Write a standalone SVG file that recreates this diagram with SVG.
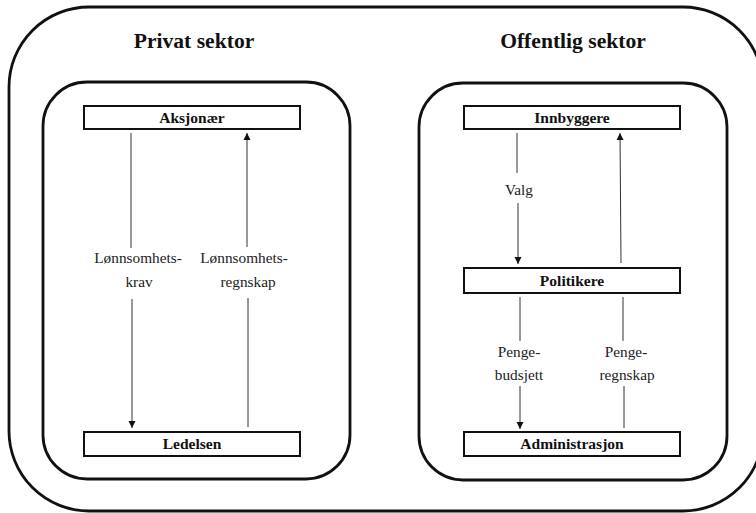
<svg xmlns="http://www.w3.org/2000/svg" width="756" height="513" viewBox="0 0 756 513">
  <style>
    .frame { fill: none; stroke: #111; stroke-width: 2.8; }
    .node rect { fill: #fff; stroke: #111; stroke-width: 2; }
    .ntxt { font-family: 'Liberation Serif', serif; font-weight: bold; font-size: 15.5px; fill: #111; text-anchor: middle; }
    .title { font-family: 'Liberation Serif', serif; font-weight: bold; font-size: 21.6px; fill: #111; text-anchor: middle; }
    .edge { stroke: #333; stroke-width: 1; fill: none; }
    .lbl { font-family: 'Liberation Serif', serif; font-size: 15.3px; fill: #222; text-anchor: middle; }
  </style>
  <defs>
    <marker id="arrow" viewBox="0 0 10 10" refX="10" refY="5" markerWidth="7" markerHeight="8" markerUnits="userSpaceOnUse" orient="auto">
      <path d="M0,0 L10,5 L0,10 Z" fill="#111"/>
    </marker>
  </defs>
  <rect width="756" height="513" fill="#fff"/>

  <!-- outer frame (runs past the right edge) and the two sector frames -->
  <rect class="frame" x="9" y="7" width="754" height="504" rx="80" ry="80"/>
  <rect class="frame" x="43" y="82" width="307" height="397" rx="44" ry="44"/>
  <rect class="frame" x="419" y="83" width="308" height="397" rx="44" ry="44"/>

  <text class="title" x="194" y="48">Privat sektor</text>
  <text class="title" x="573" y="48">Offentlig sektor</text>

  <!-- connectors -->
  <g id="connectors">
    <line class="edge" x1="131" y1="133" x2="131" y2="248"/>
    <line class="edge" x1="132" y1="299" x2="132" y2="428" marker-end="url(#arrow)"/>
    <text class="lbl" x="138" y="263">Lønnsomhets-</text>
    <text class="lbl" x="139" y="287">krav</text>

    <line class="edge" x1="248" y1="427" x2="248" y2="298"/>
    <line class="edge" x1="247" y1="247" x2="247" y2="133" marker-end="url(#arrow)"/>
    <text class="lbl" x="244" y="263">Lønnsomhets-</text>
    <text class="lbl" x="248" y="287">regnskap</text>

    <line class="edge" x1="517" y1="133" x2="517" y2="173"/>
    <line class="edge" x1="518" y1="203" x2="518" y2="264" marker-end="url(#arrow)"/>
    <text class="lbl" x="519" y="195">Valg</text>

    <line class="edge" x1="621" y1="263" x2="620" y2="133" marker-end="url(#arrow)"/>

    <line class="edge" x1="520" y1="297" x2="520" y2="341"/>
    <line class="edge" x1="520" y1="386" x2="520" y2="429" marker-end="url(#arrow)"/>
    <text class="lbl" x="519" y="357">Penge-</text>
    <text class="lbl" x="519" y="380">budsjett</text>

    <line class="edge" x1="623" y1="297" x2="623" y2="341"/>
    <line class="edge" x1="624" y1="386" x2="624" y2="428"/>
    <text class="lbl" x="626" y="357">Penge-</text>
    <text class="lbl" x="627" y="380">regnskap</text>
  </g>

  <!-- nodes -->
  <g id="aksjonaer" class="node">
    <rect x="84" y="106" width="216" height="23"/>
    <text class="ntxt" x="192" y="123">Aksjonær</text>
  </g>
  <g id="ledelsen" class="node">
    <rect x="84" y="432" width="216" height="24"/>
    <text class="ntxt" x="192" y="449">Ledelsen</text>
  </g>
  <g id="innbyggere" class="node">
    <rect x="464" y="106" width="216" height="23"/>
    <text class="ntxt" x="572" y="123">Innbyggere</text>
  </g>
  <g id="politikere" class="node">
    <rect x="464" y="268" width="216" height="25"/>
    <text class="ntxt" x="572" y="286">Politikere</text>
  </g>
  <g id="administrasjon" class="node">
    <rect x="464" y="432" width="216" height="24"/>
    <text class="ntxt" x="572" y="449">Administrasjon</text>
  </g>
</svg>
